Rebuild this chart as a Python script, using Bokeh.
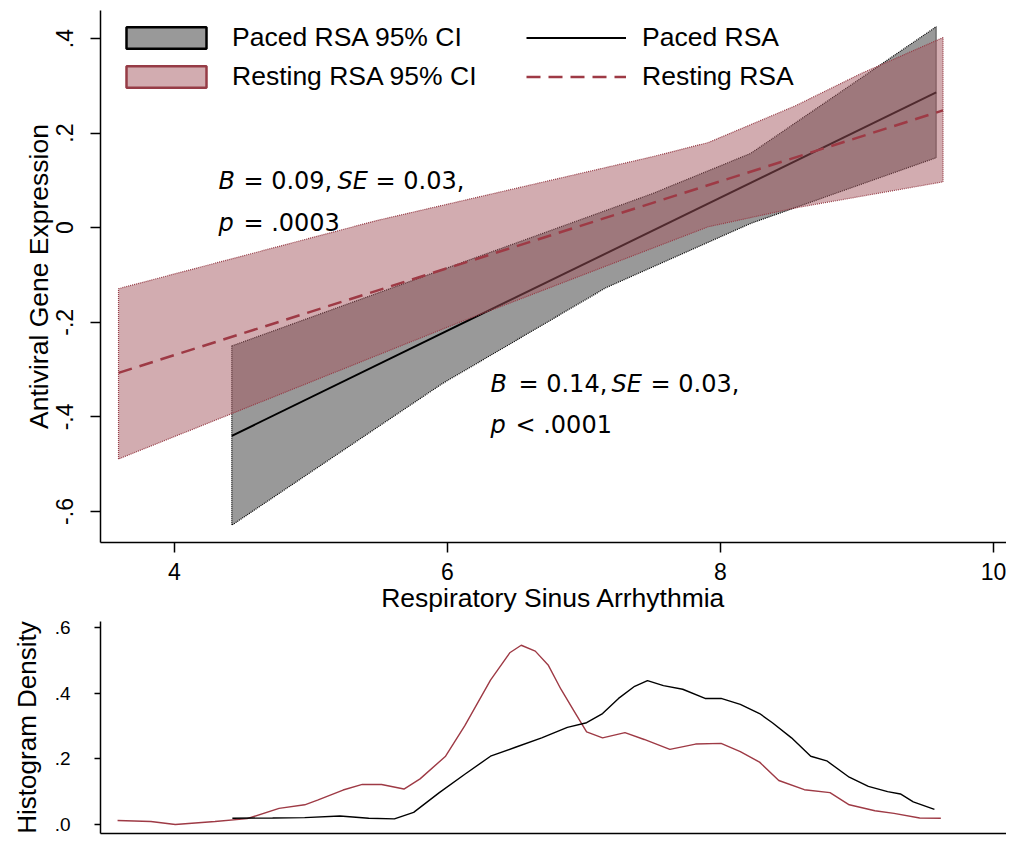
from bokeh.plotting import figure
from bokeh.models import Range1d, FixedTicker, Legend, LegendItem, Label, ColumnDataSource
from bokeh.layouts import column
from bokeh.embed import file_html
from bokeh.resources import INLINE

# ---------------- data ----------------
paced_line_x = [4.42, 9.58]
paced_line_y = [-0.440, 0.286]
rest_line_x = [3.59, 9.63]
rest_line_y = [-0.307, 0.248]

paced_ci_upper_x = [4.42, 5.96, 7.50, 8.22, 8.86, 9.58]
paced_ci_upper_y = [-0.250, -0.089, 0.072, 0.157, 0.283, 0.425]
paced_ci_lower_x = [4.42, 5.96, 7.16, 8.22, 9.58]
paced_ci_lower_y = [-0.629, -0.330, -0.127, 0.009, 0.148]

rest_ci_upper_x = [3.59, 5.48, 7.50, 7.91, 8.55, 9.03, 9.63]
rest_ci_upper_y = [-0.129, 0.015, 0.150, 0.180, 0.258, 0.326, 0.402]
rest_ci_lower_x = [3.59, 6.08, 7.91, 8.55, 9.63]
rest_ci_lower_y = [-0.489, -0.201, 0.002, 0.042, 0.097]

rest_dens_x = [3.583, 3.827, 4.006, 4.297, 4.532, 4.766, 4.954, 5.048, 5.235, 5.376,
               5.517, 5.681, 5.799, 5.986, 6.127, 6.315, 6.456, 6.540, 6.643, 6.737,
               6.831, 6.925, 7.019, 7.136, 7.300, 7.441, 7.629, 7.817, 8.004, 8.145,
               8.286, 8.427, 8.614, 8.802, 8.943, 9.131, 9.271, 9.459, 9.614]
rest_dens_y = [0.012, 0.009, 0.000, 0.009, 0.018, 0.049, 0.060, 0.074, 0.105, 0.122,
               0.122, 0.108, 0.139, 0.208, 0.301, 0.440, 0.523, 0.546, 0.528, 0.486,
               0.412, 0.347, 0.282, 0.264, 0.280, 0.259, 0.229, 0.245, 0.247, 0.222,
               0.190, 0.134, 0.106, 0.097, 0.060, 0.042, 0.034, 0.020, 0.019]

paced_dens_x = [4.424, 4.719, 4.954, 5.212, 5.423, 5.611, 5.752, 5.940, 6.127, 6.315,
                6.503, 6.690, 6.878, 7.019, 7.136, 7.253, 7.371, 7.465, 7.582, 7.723,
                7.887, 8.004, 8.145, 8.286, 8.380, 8.520, 8.661, 8.778, 8.943, 9.083,
                9.224, 9.318, 9.412, 9.567]
paced_dens_y = [0.019, 0.020, 0.021, 0.026, 0.019, 0.017, 0.037, 0.097, 0.153, 0.208,
                0.236, 0.264, 0.296, 0.310, 0.338, 0.384, 0.421, 0.438, 0.423, 0.412,
                0.384, 0.384, 0.366, 0.338, 0.310, 0.264, 0.208, 0.194, 0.144, 0.116,
                0.100, 0.093, 0.069, 0.046]

x_ticks = [4, 6, 8, 10]
y_ticks = [-0.6, -0.4, -0.2, 0, 0.2, 0.4]
y_tick_labels = ["-.6", "-.4", "-.2", "0", ".2", ".4"]
d_ticks = [0, 0.2, 0.4, 0.6]
d_tick_labels = [".0", ".2", ".4", ".6"]

legend_labels = ["Paced RSA 95% CI", "Resting RSA 95% CI", "Paced RSA", "Resting RSA"]

# ---------------- styles ----------------
FONT = "Liberation Sans"
ANN_FONT = "DejaVu Sans"
GRAY = "#999999"
PINK_FILL = "#a3565e"
PINK_ALPHA = 0.49
RED = "#9e3a45"
RED_EDGE = "#963c46"

xr = Range1d(3.458, 10.095)

p1 = figure(width=1006, height=618, x_range=xr, y_range=Range1d(-0.6656, 0.4593),
            output_backend="svg", toolbar_location=None,
            min_border_left=100, min_border_right=0, min_border_top=10, min_border_bottom=76)
p1.grid.visible = False
p1.outline_line_color = None

paced_band = ColumnDataSource(dict(x=paced_ci_upper_x + paced_ci_lower_x[::-1],
                                   y=paced_ci_upper_y + paced_ci_lower_y[::-1]))
rest_band = ColumnDataSource(dict(x=rest_ci_upper_x + rest_ci_lower_x[::-1],
                                  y=rest_ci_upper_y + rest_ci_lower_y[::-1]))

p1.patch("x", "y", source=paced_band, fill_color=GRAY, fill_alpha=1.0,
         line_color="black", line_width=1.2, line_dash="1 1")
r_pl = p1.line(paced_line_x, paced_line_y, line_color="black", line_width=2)
p1.patch("x", "y", source=rest_band, fill_color=PINK_FILL, fill_alpha=PINK_ALPHA,
         line_color=RED_EDGE, line_width=1.2, line_dash="1 1")
r_rl = p1.line(rest_line_x, rest_line_y, line_color=RED, line_width=2.5, line_dash="14 8")

# legend-only proxies (hidden) with solid outlines
lg_pb = p1.patch("x", "y", source=paced_band, fill_color=GRAY, line_color="black",
                 line_width=2.5, visible=False)
lg_rb = p1.patch("x", "y", source=rest_band, fill_color=PINK_FILL, fill_alpha=PINK_ALPHA,
                 line_color=RED_EDGE, line_width=2.5, visible=False)

def make_legend(items, loc):
    return Legend(items=items, location=loc, orientation="vertical",
                  glyph_width=100, glyph_height=27, label_height=27, spacing=8,
                  label_standoff=16, padding=0, margin=0,
                  label_text_font=FONT, label_text_font_size="26.5px", label_text_color="black",
                  background_fill_alpha=0, border_line_color=None,
                  inactive_fill_alpha=0)

leg1 = make_legend([LegendItem(label=legend_labels[0], renderers=[lg_pb]),
                    LegendItem(label=legend_labels[1], renderers=[lg_rb])], (16, 450))
leg2 = make_legend([LegendItem(label=legend_labels[2], renderers=[r_pl]),
                    LegendItem(label=legend_labels[3], renderers=[r_rl])], (426, 450))
p1.add_layout(leg1)
p1.add_layout(leg2)

# axes
p1.xaxis.ticker = FixedTicker(ticks=x_ticks)
p1.yaxis.ticker = FixedTicker(ticks=y_ticks)
p1.yaxis.major_label_overrides = {v: s for v, s in zip(y_ticks, y_tick_labels)}
p1.yaxis.major_label_orientation = "vertical"
for ax in (p1.xaxis, p1.yaxis):
    ax.axis_line_width = 1.5
    ax.axis_line_color = "black"
    ax.major_tick_line_width = 1.5
    ax.major_tick_out = 10
    ax.major_tick_in = 0
    ax.minor_tick_line_color = None
    ax.major_label_text_font = FONT
    ax.major_label_text_font_size = "23px"
    ax.major_label_text_color = "black"
    ax.axis_label_text_font = FONT
    ax.axis_label_text_font_size = "26.5px"
    ax.axis_label_text_font_style = "normal"
    ax.axis_label_text_color = "black"
p1.xaxis.axis_label = "Respiratory Sinus Arrhythmia"
p1.yaxis.axis_label = "Antiviral Gene Expression"
p1.xaxis.major_label_standoff = 10
p1.xaxis.axis_label_standoff = 0
p1.yaxis.major_label_standoff = 17
p1.yaxis.axis_label_standoff = 0

# annotations (B, SE, p italic); leading spaces are not kept in SVG, so each piece is placed
ann = [
    (4.322, 0.0995, "B", "italic"), (4.505, 0.0995, "= 0.09,", "normal"),
    (5.194, 0.0995, "SE", "italic"), (5.473, 0.0995, "= 0.03,", "normal"),
    (4.322, 0.0106, "p", "italic"), (4.505, 0.0106, "= .0003", "normal"),
    (6.315, -0.330, "B", "italic"), (6.520, -0.330, "= 0.14,", "normal"),
    (7.201, -0.330, "SE", "italic"), (7.487, -0.330, "= 0.03,", "normal"),
    (6.315, -0.417, "p", "italic"), (6.498, -0.417, "< .0001", "normal"),
]
for x, y, t, st in ann:
    p1.add_layout(Label(x=x, y=y, text=t, text_font=ANN_FONT, text_font_size="24px",
                        text_font_style=st, text_baseline="alphabetic", text_align="left",
                        text_color="black"))

# ---------------- density panel ----------------
p2 = figure(width=1006, height=218, x_range=xr, y_range=Range1d(-0.0274, 0.6183),
            output_backend="svg", toolbar_location=None,
            min_border_left=100, min_border_right=0, min_border_top=3, min_border_bottom=3)
p2.grid.visible = False
p2.outline_line_color = None
p2.line(rest_dens_x, rest_dens_y, line_color=RED, line_width=1.4)
p2.line(paced_dens_x, paced_dens_y, line_color="black", line_width=1.4)

p2.yaxis.ticker = FixedTicker(ticks=d_ticks)
p2.yaxis.major_label_overrides = {v: s for v, s in zip(d_ticks, d_tick_labels)}
p2.xaxis.ticker = FixedTicker(ticks=[])
for ax in (p2.xaxis, p2.yaxis):
    ax.axis_line_width = 1.5
    ax.axis_line_color = "black"
    ax.major_tick_line_width = 1.5
    ax.major_tick_in = 0
    ax.minor_tick_line_color = None
    ax.major_label_text_font = FONT
    ax.major_label_text_color = "black"
p2.yaxis.major_tick_out = 6
p2.yaxis.major_label_text_font_size = "19px"
p2.yaxis.major_label_standoff = 24
p2.yaxis.axis_label = "Histogram Density"
p2.yaxis.axis_label_text_font = FONT
p2.yaxis.axis_label_text_font_size = "26px"
p2.yaxis.axis_label_text_font_style = "normal"
p2.yaxis.axis_label_text_color = "black"
p2.yaxis.axis_label_standoff = 10
p2.xaxis.major_tick_out = 0

layout = column(p1, p2, spacing=0)
open("out.html", "w").write(file_html(layout, INLINE))
